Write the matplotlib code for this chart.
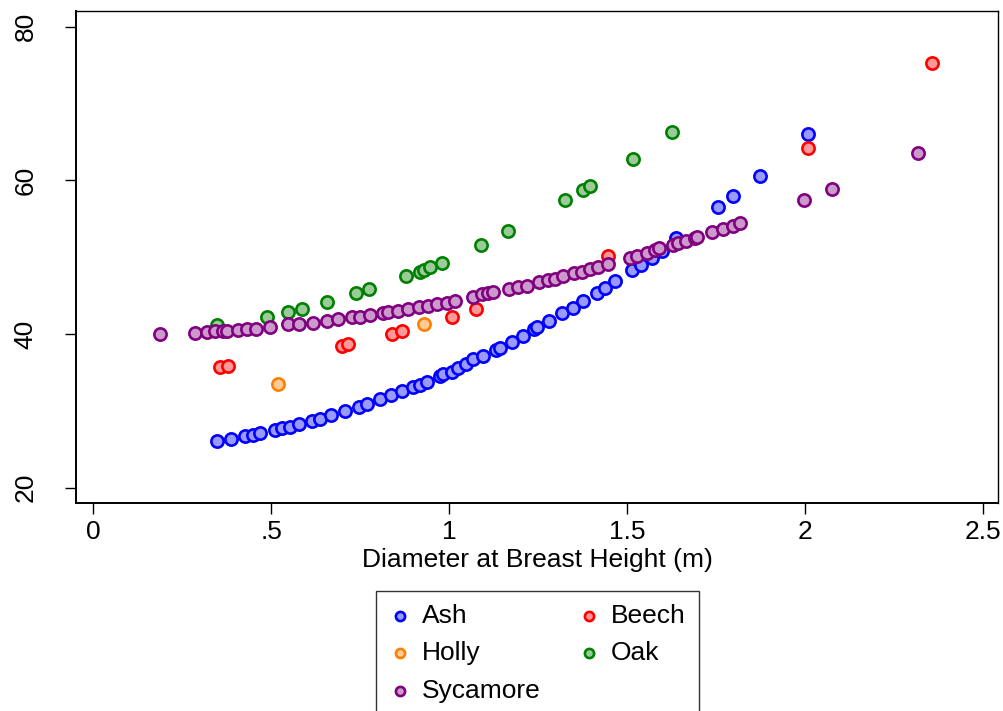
import matplotlib
matplotlib.use("Agg")
import matplotlib.pyplot as plt

plt.rcParams['font.family'] = ['Liberation Sans', 'DejaVu Sans']

# ---- data (diameter m, height) ----
ash_x = [0.349, 0.386, 0.426, 0.449, 0.469, 0.511, 0.530, 0.553, 0.579, 0.614,
         0.637, 0.668, 0.707, 0.748, 0.768, 0.806, 0.838, 0.867, 0.899, 0.918,
         0.939, 0.974, 0.984, 1.007, 1.026, 1.048, 1.068, 1.094, 1.132, 1.143,
         1.176, 1.209, 1.239, 1.248, 1.281, 1.317, 1.347, 1.377, 1.415, 1.438,
         1.466, 1.515, 1.538, 1.569, 1.598, 1.638, 1.757, 1.797, 1.874, 2.008]
ash_y = [26.08, 26.37, 26.70, 26.92, 27.08, 27.51, 27.74, 27.94, 28.26, 28.68,
         28.98, 29.42, 29.98, 30.54, 30.89, 31.52, 32.06, 32.58, 33.07, 33.43,
         33.73, 34.54, 34.80, 35.10, 35.60, 36.14, 36.75, 37.14, 37.92, 38.22,
         39.00, 39.78, 40.65, 40.95, 41.69, 42.70, 43.43, 44.34, 45.38, 46.03,
         46.94, 48.33, 48.98, 49.86, 50.81, 52.54, 56.49, 57.96, 60.56, 66.07]

beech_x = [0.356, 0.379, 0.698, 0.717, 0.839, 0.867, 1.007, 1.076, 1.447, 2.008, 2.358]
beech_y = [35.75, 35.80, 38.44, 38.66, 39.96, 40.40, 42.25, 43.30, 50.16, 64.25, 75.30]

holly_x = [0.518, 0.929]
holly_y = [33.46, 41.30]

oak_x = [0.347, 0.487, 0.546, 0.587, 0.656, 0.737, 0.776, 0.878, 0.918, 0.929,
         0.946, 0.979, 1.089, 1.166, 1.327, 1.377, 1.396, 1.516, 1.627]
oak_y = [41.17, 42.18, 42.90, 43.26, 44.13, 45.30, 45.82, 47.55, 48.11, 48.33,
         48.76, 49.28, 51.59, 53.45, 57.44, 58.75, 59.25, 62.74, 66.26]

syc_x = [0.187, 0.286, 0.319, 0.342, 0.365, 0.375, 0.408, 0.431, 0.457, 0.497,
         0.548, 0.578, 0.617, 0.656, 0.689, 0.726, 0.750, 0.778, 0.815, 0.829,
         0.857, 0.885, 0.916, 0.942, 0.965, 0.993, 1.017, 1.068, 1.092, 1.110,
         1.124, 1.169, 1.194, 1.218, 1.254, 1.279, 1.298, 1.321, 1.351, 1.373,
         1.396, 1.419, 1.447, 1.508, 1.527, 1.555, 1.579, 1.591, 1.628, 1.644,
         1.666, 1.691, 1.698, 1.738, 1.771, 1.797, 1.818, 1.997, 2.077, 2.317]
syc_y = [40.00, 40.17, 40.30, 40.39, 40.39, 40.43, 40.52, 40.61, 40.69, 40.95,
         41.27, 41.30, 41.47, 41.69, 41.92, 42.18, 42.18, 42.48, 42.70, 42.83,
         43.00, 43.22, 43.48, 43.69, 43.91, 44.08, 44.30, 44.86, 45.17, 45.30,
         45.43, 45.86, 46.16, 46.29, 46.73, 47.03, 47.16, 47.55, 47.90, 48.11,
         48.42, 48.76, 49.07, 49.86, 50.16, 50.58, 50.87, 51.16, 51.59, 51.81,
         52.11, 52.46, 52.67, 53.24, 53.63, 54.10, 54.41, 57.48, 58.91, 63.60]

x_ticks = [0, 0.5, 1, 1.5, 2, 2.5]
x_tick_labels = ["0", ".5", "1", "1.5", "2", "2.5"]
y_ticks = [20, 40, 60, 80]
x_label = "Diameter at Breast Height (m)"

series = [
    ("Ash", ash_x, ash_y, "#0000ff", "#9999ff"),
    ("Beech", beech_x, beech_y, "#ff0000", "#ff9999"),
    ("Holly", holly_x, holly_y, "#ff8000", "#ffcc99"),
    ("Oak", oak_x, oak_y, "#008000", "#99cc99"),
    ("Sycamore", syc_x, syc_y, "#800080", "#cc99cc"),
]

fig = plt.figure(figsize=(10.04, 7.11), dpi=100)
ax = fig.add_axes([0.0760, 0.2921, 0.9183, 0.6929])

handles = {}
for name, xs, ys, ec, fc in series:
    h = ax.scatter(xs, ys, s=78, facecolor=fc, edgecolor=ec, linewidths=1.9,
                   label=name, zorder=3)
    handles[name] = h

ax.set_xlim(-0.0478, 2.5436)
ax.set_ylim(17.97, 82.08)
ax.set_xticks(x_ticks)
ax.set_xticklabels(x_tick_labels)
ax.set_yticks(y_ticks)
ax.tick_params(axis='both', labelsize=19, length=8, width=1.0, color='black')
ax.tick_params(axis='x', pad=4)
ax.tick_params(axis='y', pad=20)
for lab in ax.get_yticklabels():
    lab.set_rotation(90)
    lab.set_va('center')
    lab.set_ha('right')
ax.set_xlabel(x_label, fontsize=19, labelpad=3)

for side in ['left', 'bottom']:
    ax.spines[side].set_linewidth(1.4)
for side in ['top', 'right']:
    ax.spines[side].set_linewidth(1.0)

order = ["Ash", "Holly", "Sycamore", "Beech", "Oak"]
leg = fig.legend([handles[n] for n in order], order, ncol=2,
                 loc='upper center', bbox_to_anchor=(0.5354, 0.1688),
                 fontsize=19, frameon=True, fancybox=False, edgecolor='black',
                 borderpad=0.5, labelspacing=0.5, handlelength=0.8,
                 handletextpad=0.45, columnspacing=1.4, markerscale=0.75,
                 borderaxespad=0)
leg.get_frame().set_linewidth(1.0)

fig.savefig("out.png", dpi=100)
